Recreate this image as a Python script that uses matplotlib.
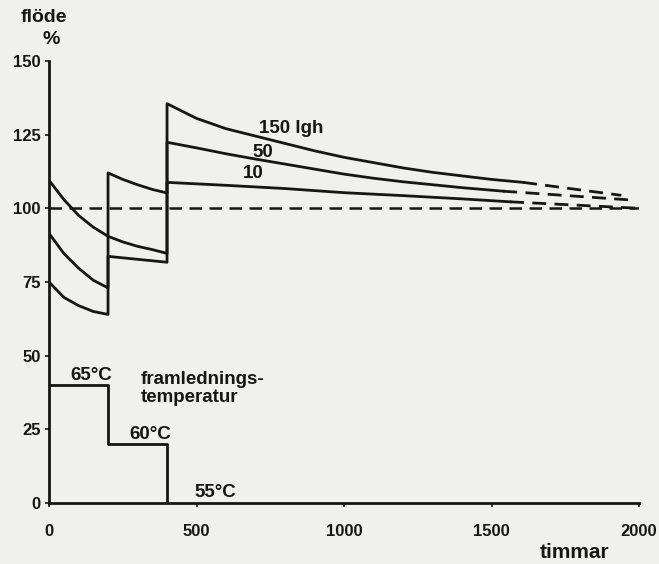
import matplotlib
matplotlib.use("Agg")
import matplotlib.pyplot as plt

plt.rcParams['font.family'] = ['Liberation Sans', 'DejaVu Sans']
plt.rcParams['font.weight'] = 'bold'

# ---- data ----
# 150 lgh series
h150 = [0, 50, 100, 150, 200, 200, 250, 300, 350, 400, 400, 500, 600, 700, 800, 900,
        1000, 1100, 1200, 1300, 1400, 1500, 1607]
v150 = [109.5, 103, 97.6, 93.6, 90.5, 112, 109.8, 108, 106.4, 105.2, 135.5, 130.5, 127,
        124.5, 122, 119.5, 117.3, 115.5, 113.7, 112.2, 111, 109.8, 108.8]
h150_ext = [1607, 1940]
v150_ext = [108.8, 104.4]

# 50 lgh series
h50 = [0, 50, 100, 150, 200, 200, 250, 300, 350, 400, 400, 500, 600, 700, 800, 900,
       1000, 1100, 1200, 1300, 1400, 1540]
v50 = [91.5, 84.7, 79.7, 75.6, 73, 90.5, 88.6, 87.1, 86, 84.7, 122.4, 120.5, 118.5,
       116.7, 115, 113.3, 111.6, 110.2, 109, 108, 107, 105.8]
h50_ext = [1540, 1990]
v50_ext = [105.8, 102.7]

# 10 lgh series
h10 = [0, 50, 100, 150, 200, 200, 300, 400, 400, 600, 800, 1000, 1200, 1400, 1563]
v10 = [75, 69.8, 67, 65, 64, 83.7, 82.7, 81.7, 108.8, 107.8, 106.7, 105.3, 104.3,
       103.2, 102.2]
h10_ext = [1563, 2000]
v10_ext = [102.2, 100]

ref_hours = [0, 2000]
ref_level = [100, 100]

# supply temperature steps
temp_hours = [0, 200, 200, 400, 400]
temp_level = [40, 40, 20, 20, 0]
temp_labels = ["65°C", "60°C", "55°C"]

series_labels = ["150 lgh", "50", "10"]
xticks = [0, 500, 1000, 1500, 2000]
yticks = [0, 25, 50, 75, 100, 125, 150]

# ---- figure ----
bg = '#f0f0ee'
ink = '#161616'
fig = plt.figure(figsize=(6.59, 5.64), dpi=100, facecolor=bg)
ax = fig.add_axes([0.0744, 0.108, 0.8953, 0.784], facecolor=bg)

lw = 2.0
ax.plot(h150, v150, color=ink, lw=lw)
ax.plot(h50, v50, color=ink, lw=lw)
ax.plot(h10, v10, color=ink, lw=lw)
for hx, vx in [(h150_ext, v150_ext), (h50_ext, v50_ext), (h10_ext, v10_ext)]:
    ax.plot(hx, vx, color=ink, lw=lw, dashes=(5, 3))
ax.plot(ref_hours, ref_level, color=ink, lw=1.8, dashes=(5, 3))
ax.plot(temp_hours, temp_level, color=ink, lw=lw)

ax.set_xlim(0, 2000)
ax.set_ylim(0, 150)
ax.set_xticks(xticks)
ax.set_yticks(yticks)
for s in ['top', 'right']:
    ax.spines[s].set_visible(False)
for s in ['left', 'bottom']:
    ax.spines[s].set_linewidth(2.0)
    ax.spines[s].set_color(ink)
ax.tick_params(axis='both', direction='out', length=3, width=1.2, colors=ink,
               labelsize=12)
ax.tick_params(axis='x', pad=12)
ax.tick_params(axis='y', pad=3)
for lab in ax.get_xticklabels() + ax.get_yticklabels():
    lab.set_fontweight('bold')

fs = 13.5
ax.text(712, 127, series_labels[0], fontsize=fs, fontweight='bold', color=ink, va='center')
ax.text(688, 119, series_labels[1], fontsize=fs, fontweight='bold', color=ink, va='center')
ax.text(658, 111.7, series_labels[2], fontsize=fs, fontweight='bold', color=ink, va='center')

tfs = 13.5
ax.text(142, 40.3, temp_labels[0], fontsize=tfs, fontweight='bold', color=ink,
        ha='center', va='bottom')
ax.text(342, 20.3, temp_labels[1], fontsize=tfs, fontweight='bold', color=ink,
        ha='center', va='bottom')
ax.text(563, 0.6, temp_labels[2], fontsize=tfs, fontweight='bold', color=ink,
        ha='center', va='bottom')
ax.text(312, 38.8, "framlednings-\ntemperatur", fontsize=tfs, fontweight='bold',
        color=ink, ha='left', va='center', linespacing=1.1)

fig.text(44 / 659, 1 - 18 / 564, "flöde", fontsize=14, fontweight='bold', color=ink,
         ha='center', va='center')
fig.text(51 / 659, 1 - 40 / 564, "%", fontsize=14, fontweight='bold', color=ink,
         ha='center', va='center')
fig.text(575 / 659, 1 - 553 / 564, "timmar", fontsize=15, fontweight='bold', color=ink,
         ha='center', va='center')

fig.savefig("out.png", dpi=100, facecolor=bg)
